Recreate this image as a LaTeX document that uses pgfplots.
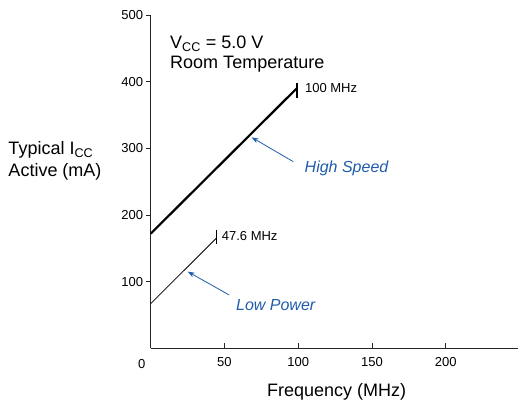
\documentclass[border=0pt]{standalone}
\usepackage{fontspec}
\setmainfont{Liberation Sans}
\usepackage{pgfplots}
\pgfplotsset{compat=1.18}
\usetikzlibrary{arrows.meta}
\definecolor{noteblue}{HTML}{1F5CAB}

\begin{document}
\begin{tikzpicture}
\useasboundingbox (-150.7pt,-58.7pt) rectangle (373.3pt,348.3pt);
\begin{axis}[
    scale only axis,
    width=367.4pt, height=333.3pt,
    xmin=0, xmax=249,
    ymin=0, ymax=500,
    axis x line=bottom, axis y line=left,
    axis line style={-, line width=0.9pt, black!85},
    xtick={50,100,150,200},
    ytick={100,200,300,400,500},
    x tick style={line width=0.9pt, black!85},
    y tick style={line width=0.9pt, black!85},
    xtick align=inside, ytick align=outside,
    major tick length=5pt,
    /pgf/number format/assume math mode=true,
    tick label style={font=\fontsize{13}{15}\selectfont},
    xticklabel style={yshift=-6pt},
    yticklabel style={xshift=1pt},
    clip=false,
]
% High Speed
\addplot[black, line width=2.2pt] coordinates {(0,172) (99,390)};
\addplot[black, line width=2pt] coordinates {(99,375) (99,398)};
% Low Power
\addplot[black, line width=0.8pt] coordinates {(0,67) (44.4,165)};
\addplot[black, line width=0.8pt] coordinates {(44.4,157) (44.4,178)};

\draw[noteblue, line width=0.8pt, -{Stealth[length=7pt,width=5pt]}] (axis cs:96.6,280) -- (axis cs:68.4,316.5);
\draw[noteblue, line width=0.8pt, -{Stealth[length=7pt,width=5pt]}] (axis cs:53.2,80) -- (axis cs:25.1,115);

\node[anchor=west, noteblue, font=\fontsize{16}{18}\selectfont\itshape] at (axis cs:102,270.5) {High Speed};
\node[anchor=west, noteblue, font=\fontsize{16}{18}\selectfont\itshape] at (axis cs:55.5,65) {Low Power};

\node[anchor=west, font=\fontsize{13}{15}\selectfont, inner sep=0pt] at (axis cs:104.5,390) {100 MHz};
\node[anchor=west, font=\fontsize{13}{15}\selectfont, inner sep=0pt] at (axis cs:48.1,168.5) {47.6 MHz};

\node[anchor=base west, font=\fontsize{18}{20}\selectfont, inner sep=0pt] at (axis cs:13.1,450) {V\textsubscript{CC} = 5.0 V};
\node[anchor=base west, font=\fontsize{18}{20}\selectfont, inner sep=0pt] at (axis cs:13.1,419) {Room Temperature};

\node[font=\fontsize{13}{15}\selectfont, inner sep=0pt] at (axis cs:-6,-24) {0};
\end{axis}
\node[anchor=west, align=left, font=\fontsize{18}{22}\selectfont, inner sep=0pt] at (-142.4pt,187.3pt) {Typical I\textsubscript{CC}\\Active (mA)};
\node[font=\fontsize{18}{20}\selectfont, inner sep=0pt] at (186pt,-43.4pt) {Frequency (MHz)};
\end{tikzpicture}
\end{document}
